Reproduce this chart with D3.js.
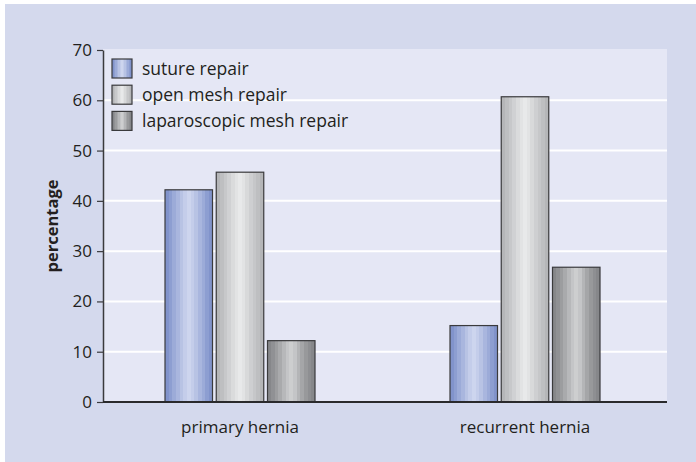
<!DOCTYPE html>
<html>
<head>
<meta charset="utf-8">
<script src="https://cdn.jsdelivr.net/npm/d3@7/dist/d3.min.js"></script>
<style>
  html, body { margin: 0; padding: 0; background: #ffffff; }
  svg { display: block; }
  text { font-family: "Open Sans", "Noto Sans", sans-serif; fill: #231f20; }
</style>
</head>
<body>
<svg id="chart" width="696" height="462"></svg>
<script>
// Hernia repair technique by hernia type (percentage)
const categories = ["primary hernia", "recurrent hernia"];
const seriesNames = ["suture repair", "open mesh repair", "laparoscopic mesh repair"];
const sutureRepair = [42.2, 15.2];
const openMeshRepair = [45.7, 60.7];
const laparoscopicMeshRepair = [12.2, 26.8];
const yTicks = [0, 10, 20, 30, 40, 50, 60, 70];
const yLabel = "percentage";

const seriesValues = [sutureRepair, openMeshRepair, laparoscopicMeshRepair];

const svg = d3.select("#chart");
const W = 696, H = 462;
const plot = { left: 103, right: 667, top: 50, bottom: 402 };

// panel backgrounds
svg.append("rect").attr("x", 5).attr("y", 4).attr("width", W - 5).attr("height", H - 4)
  .attr("fill", "#d4d9ed");
svg.append("rect").attr("x", plot.left).attr("y", plot.top - 1)
  .attr("width", plot.right - plot.left).attr("height", plot.bottom - plot.top + 1)
  .attr("fill", "#e5e7f5");

// striped metallic fills, one per series
const defs = svg.append("defs");
const fillStops = [
  ["#8193cb", "#8d9ed1", "#9cabd8", "#a9b6de", "#b8c3e4", "#c4cdea", "#cdd5ee", "#c4cdea", "#b8c3e4", "#a9b6de", "#9cabd8", "#8d9ed1", "#8193cb"],
  ["#b5b6b8", "#bebfc1", "#c7c8ca", "#d0d1d3", "#dadbdc", "#e2e3e4", "#e8e9ea", "#e2e3e4", "#d8d9da", "#cecfd1", "#c6c7c9", "#bebfc1", "#b5b6b8"],
  ["#86878a", "#909194", "#9c9d9f", "#a9aaac", "#b7b8ba", "#c4c5c7", "#cdcecf", "#c4c5c7", "#b4b5b7", "#a5a6a8", "#98999b", "#8e8f92", "#86878a"]
];
fillStops.forEach((cols, i) => {
  const g = defs.append("linearGradient").attr("id", "grad" + i)
    .attr("x1", "0").attr("x2", "1").attr("y1", "0").attr("y2", "0");
  const n = cols.length;
  cols.forEach((c, j) => {
    // hard-edged bands give the fine vertical striping
    g.append("stop").attr("offset", (j / n * 100) + "%").attr("stop-color", c);
    g.append("stop").attr("offset", ((j + 1) / n * 100) + "%").attr("stop-color", c);
  });
});

// scales
const x0 = d3.scaleBand().domain(categories).range([97.5, 667.5]).paddingInner(0).paddingOuter(0);
const x1 = d3.scaleBand().domain(seriesNames).range([-75, 75]).paddingInner(0.073);
const y = d3.scaleLinear().domain([0, 70]).range([plot.bottom, plot.top]);

// gridlines
svg.append("g").selectAll("line").data(yTicks.filter(t => t > 0 && t < 70)).join("line")
  .attr("x1", plot.left).attr("x2", plot.right)
  .attr("y1", d => y(d)).attr("y2", d => y(d))
  .attr("stroke", "#ffffff").attr("stroke-width", 2);

// bars
const groups = svg.append("g").selectAll("g").data(categories).join("g")
  .attr("transform", d => `translate(${x0(d) + x0.bandwidth() / 2},0)`);
groups.selectAll("rect")
  .data((d, ci) => seriesNames.map((s, si) => ({ s, si, v: seriesValues[si][ci] })))
  .join("rect")
  .attr("x", d => x1(d.s))
  .attr("width", x1.bandwidth())
  .attr("y", d => y(d.v))
  .attr("height", d => y(0) - y(d.v))
  .attr("fill", d => `url(#grad${d.si})`)
  .attr("stroke", "#3a3a3c").attr("stroke-width", 1.2);

// y axis
const yAxis = svg.append("g").attr("transform", `translate(${plot.left},0)`)
  .call(d3.axisLeft(y).tickValues(yTicks).tickSize(6).tickPadding(5).tickSizeOuter(0));
yAxis.select(".domain").attr("stroke", "#3a3a3c").attr("stroke-width", 1.5);
yAxis.selectAll(".tick line").attr("stroke", "#3a3a3c").attr("stroke-width", 1.2);
yAxis.selectAll(".tick text").attr("font-size", 17).attr("fill", "#231f20")
  .style("font-family", "'Open Sans', sans-serif");

// x axis
const xAxis = svg.append("g").attr("transform", `translate(0,${plot.bottom})`)
  .call(d3.axisBottom(x0).tickSize(0).tickPadding(19));
xAxis.select(".domain").attr("d", `M${plot.left},0H${plot.right}`)
  .attr("stroke", "#2a2a2c").attr("stroke-width", 2);
xAxis.selectAll(".tick text").attr("font-size", 17).attr("fill", "#231f20")
  .style("font-family", "'Open Sans', sans-serif");

// y axis title
svg.append("text")
  .attr("transform", `translate(58,${(plot.top + plot.bottom) / 2}) rotate(-90)`)
  .attr("text-anchor", "middle")
  .attr("font-size", 16.5).attr("font-weight", "bold")
  .text(yLabel);

// legend
const legend = svg.append("g").attr("transform", "translate(112,59)");
const items = legend.selectAll("g").data(seriesNames).join("g")
  .attr("transform", (d, i) => `translate(0,${i * 26.2})`);
items.append("rect").attr("width", 20).attr("height", 19)
  .attr("fill", (d, i) => `url(#grad${i})`)
  .attr("stroke", "#3a3a3c").attr("stroke-width", 1.2);
items.append("text").attr("x", 30).attr("y", 16)
  .attr("font-size", 17.5).text(d => d);
</script>
</body>
</html>
